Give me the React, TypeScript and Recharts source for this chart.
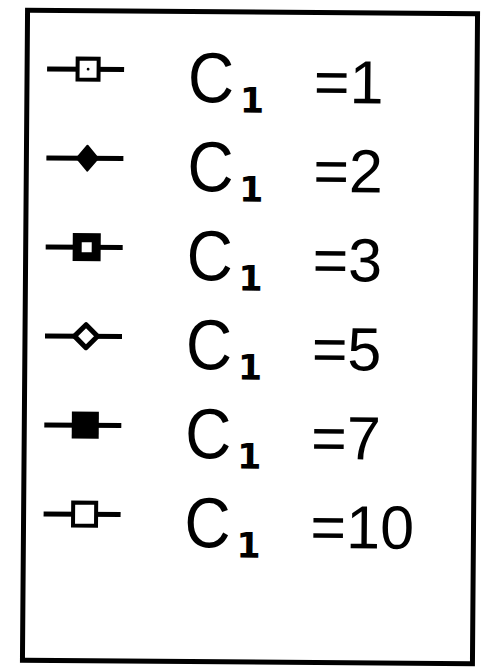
import { Legend, Line, LineChart } from "recharts";

// C1 parameter values, one series per value
const c1Values = [1, 2, 3, 5, 7, 10];
const seriesKeys = ["c1_1", "c1_2", "c1_3", "c1_5", "c1_7", "c1_10"];
const seriesNames = ["C1 =1", "C1 =2", "C1 =3", "C1 =5", "C1 =7", "C1 =10"];
const markerKinds = ["dotSquare", "diamond", "thickSquare", "openDiamond", "filledSquare", "openSquare"];

const W = 484;
const H = 667;
const ROW0 = 70.5;
const ROW_GAP = 89;

function Marker({ kind, cx, cy }: { kind: string; cx: number; cy: number }) {
  switch (kind) {
    case "dotSquare":
      return (
        <g>
          <rect x={cx - 10.5} y={cy - 10.5} width={21} height={21} fill="#fff" stroke="#000" strokeWidth={4} />
          <circle cx={cx} cy={cy} r={1.4} fill="#000" />
        </g>
      );
    case "diamond":
      return (
        <polygon
          points={`${cx},${cy - 12.5} ${cx + 10.5},${cy} ${cx},${cy + 12.5} ${cx - 10.5},${cy}`}
          fill="#000"
          stroke="#000"
          strokeWidth={2}
          strokeLinejoin="round"
        />
      );
    case "thickSquare":
      return <rect x={cx - 9.5} y={cy - 9.5} width={19} height={19} fill="#fff" stroke="#000" strokeWidth={9} />;
    case "openDiamond":
      return (
        <polygon
          points={`${cx},${cy - 11.5} ${cx + 11.5},${cy} ${cx},${cy + 11.5} ${cx - 11.5},${cy}`}
          fill="#fff"
          stroke="#000"
          strokeWidth={5}
          strokeLinejoin="round"
        />
      );
    case "filledSquare":
      return <rect x={cx - 13.5} y={cy - 13.5} width={27} height={27} fill="#000" />;
    default:
      return <rect x={cx - 11.5} y={cy - 11.5} width={23} height={23} fill="#fff" stroke="#000" strokeWidth={4} />;
  }
}

function BoxedLegend(props: any) {
  // keep series order, not alphabetical
  const payload = [...(props.payload || [])].sort(
    (a: any, b: any) => seriesKeys.indexOf(a.dataKey) - seriesKeys.indexOf(b.dataKey)
  );
  return (
    <svg width={W} height={H} style={{ display: "block" }}>
      <g transform="rotate(0.45 250 337)">
        <rect x={25} y={12} width={450} height={650} fill="#fff" stroke="#000" strokeWidth={5} />
        {payload.map((entry: any, i: number) => {
          const idx = seriesKeys.indexOf(entry.dataKey);
          const cy = ROW0 + i * ROW_GAP;
          const base = cy + 32;
          return (
            <g key={entry.dataKey}>
              <line x1={45} x2={122} y1={cy} y2={cy} stroke="#000" strokeWidth={5} />
              <Marker kind={markerKinds[idx]} cx={86} cy={cy} />
              <text
                x={0}
                y={0}
                transform={`translate(186 ${base}) scale(0.9 1)`}
                fontFamily="'Liberation Sans', Arial, sans-serif"
                fontSize={71}
                fill="#000"
              >
                C
              </text>
              <text x={238} y={base + 10} fontFamily="'DejaVu Sans', sans-serif" fontWeight="bold" fontSize={35} fill="#000">
                1
              </text>
              <text x={312} y={base} fontFamily="'Liberation Sans', Arial, sans-serif" fontSize={61} fill="#000">
                {"=" + c1Values[idx]}
              </text>
            </g>
          );
        })}
      </g>
    </svg>
  );
}

export default function App() {
  return (
    <div style={{ position: "absolute", left: 0, top: 0, width: W, height: H, background: "#fff" }}>
      <LineChart width={W} height={H} data={[]} margin={{ top: 0, right: 0, bottom: 0, left: 0 }}>
        {seriesKeys.map((key, i) => (
          <Line
            key={key}
            dataKey={key}
            name={seriesNames[i]}
            stroke="#000"
            dot={false}
            isAnimationActive={false}
          />
        ))}
        <Legend
          layout="vertical"
          align="left"
          verticalAlign="top"
          wrapperStyle={{ left: 0, top: 0, width: W, height: H, margin: 0, padding: 0 }}
          content={<BoxedLegend />}
        />
      </LineChart>
    </div>
  );
}
